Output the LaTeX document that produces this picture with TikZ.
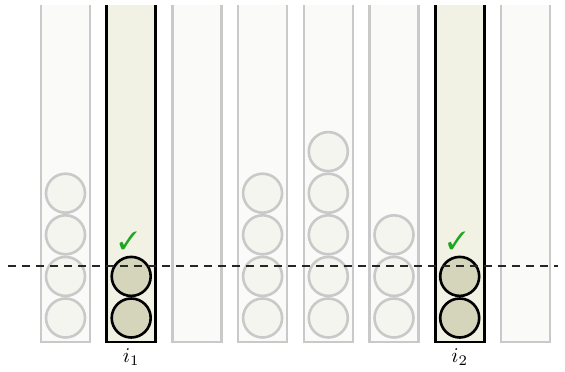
\documentclass[tikz,border=0pt]{standalone}
\usepackage{fontspec}
\usepackage{pifont}
\usepackage{xcolor}
\usepackage{tikz}
\usetikzlibrary{positioning}
\definecolor{tGrey}{HTML}{C9C9C9}
\definecolor{tPale}{HTML}{FAFAF8}
\definecolor{tOlive}{HTML}{F1F2E3}
\definecolor{bPale}{HTML}{F4F5EF}
\definecolor{bOlive}{HTML}{D4D5BA}
\definecolor{tickGreen}{HTML}{1FA51F}
\tikzset{
 tubebox/.style={rectangle, inner sep=0pt, outer sep=0pt, minimum width=49pt, minimum height=337pt},
 ballgrey/.style={circle, draw=tGrey, fill=bPale, line width=2.6pt, minimum size=39pt, inner sep=0pt},
 ballon/.style={circle, draw=black, fill=bOlive, line width=2.6pt, minimum size=39pt, inner sep=0pt},
 tickmark/.style={inner sep=0pt, text=tickGreen, font=\fontsize{25}{28}\selectfont},
 idxlabel/.style={inner sep=0pt, scale=2.1}
}
\newcommand{\tube}[4]{%
\ifnum#4=1
 \node[tubebox, fill=tOlive] (#2) at (#1,198.5) {};%
 \draw[line width=2.6pt, black] (#2.north west) -- (#2.south west) -- (#2.south east) -- (#2.north east);%
\else
 \node[tubebox, fill=tPale] (#2) at (#1,198.5) {};%
 \draw[line width=2.6pt, tGrey] (#2.north west) -- (#2.south west) -- (#2.south east) -- (#2.north east);%
\fi
\ifnum#3>0
 \foreach \j in {1,...,#3}{%
  \ifnum#4=1
   \node[ballon] (#2-\j) at ({#1},{54+41.6*(\j-1)}) {};%
  \else
   \node[ballgrey] (#2-\j) at ({#1},{54+41.6*(\j-1)}) {};%
  \fi}%
\fi}

\begin{document}
\begin{tikzpicture}[x=1pt, y=1pt]
\useasboundingbox (0,0) rectangle (565,372);
\tube{65.5}{t1}{4}{0}
\tube{131.2}{t2}{2}{1}
\tube{196.9}{t3}{0}{0}
\tube{262.6}{t4}{4}{0}
\tube{328.3}{t5}{5}{0}
\tube{394.0}{t6}{3}{0}
\tube{459.7}{t7}{2}{1}
\tube{525.4}{t8}{0}{0}
% threshold
\coordinate (lft) at (8,106);
\coordinate (rgt) at (558,106);
\draw[line width=1.5pt, black!85, dash pattern=on 8pt off 6pt] (lft) -- (rgt);
\node[tickmark, above=6pt of t2-2, xshift=-3pt] (ok1) {\ding{51}};
\node[tickmark, above=6pt of t7-2, xshift=-3pt] (ok2) {\ding{51}};
\node[idxlabel, below=6pt of t2.south] (i1) {$i_1$};
\node[idxlabel, below=6pt of t7.south] (i2) {$i_2$};
\end{tikzpicture}
\end{document}
